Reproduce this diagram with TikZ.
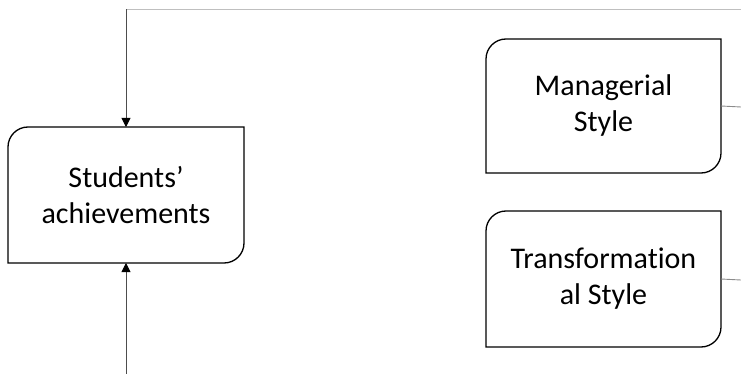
\documentclass[tikz,border=0pt]{standalone}
\usepackage{fontspec}
\setmainfont{Carlito}[RawFeature={-liga;-clig}]
\usetikzlibrary{arrows.meta}
\definecolor{lineg}{HTML}{4D4D4D}
\definecolor{lightg}{HTML}{BFBFBF}
\definecolor{stubg}{HTML}{8C8C8C}
\tikzset{
  txt/.style={inner sep=0pt, outer sep=0pt, align=center, font=\fontsize{30}{36}\selectfont, text=black},
  boxline/.style={draw=black, line width=1.3pt},
  conn/.style={draw=lineg, line width=0.9pt, -{Triangle[length=9pt,width=9pt,color=black]}},
}
\newcommand{\halfbox}[2]{%
  \draw[boxline] (#1.south west) -- ([yshift=-#2]#1.north west)
    arc[start angle=180,end angle=90,radius=#2] -- (#1.north east)
    -- ([yshift=#2]#1.south east)
    arc[start angle=0,end angle=-90,radius=#2] -- cycle;}
\begin{document}
\begin{tikzpicture}[x=1pt,y=-1pt]
\useasboundingbox (0,0) rectangle (741,374);
\node[txt, minimum width=236pt, minimum height=136pt] (sa) at (126,195) {Students’\\achievements};
\node[txt, minimum width=235pt, minimum height=134pt] (ms) at (603.5,106) {Managerial\\Style};
\node[txt, minimum width=235pt, minimum height=136pt] (ts) at (603.5,279) {Transformation\\al Style};
\halfbox{sa}{20pt}
\halfbox{ms}{20pt}
\halfbox{ts}{20pt}
\coordinate (topR) at (741,9.5);
\coordinate (topL) at (126,9.5);
\coordinate (botS) at (126,374);
\coordinate (msR) at (741,107);
\coordinate (tsR) at (741,280);
\draw[draw=lightg, line width=1pt] (topR) -- ([xshift=-0.5pt]topL);
\draw[conn] (topL) -- (sa.north);
\draw[conn] (botS) -- (sa.south);
\draw[draw=stubg, line width=0.9pt] (ms.east) -- (msR);
\draw[draw=stubg, line width=0.9pt] (ts.east) -- (tsR);
\end{tikzpicture}
\end{document}
